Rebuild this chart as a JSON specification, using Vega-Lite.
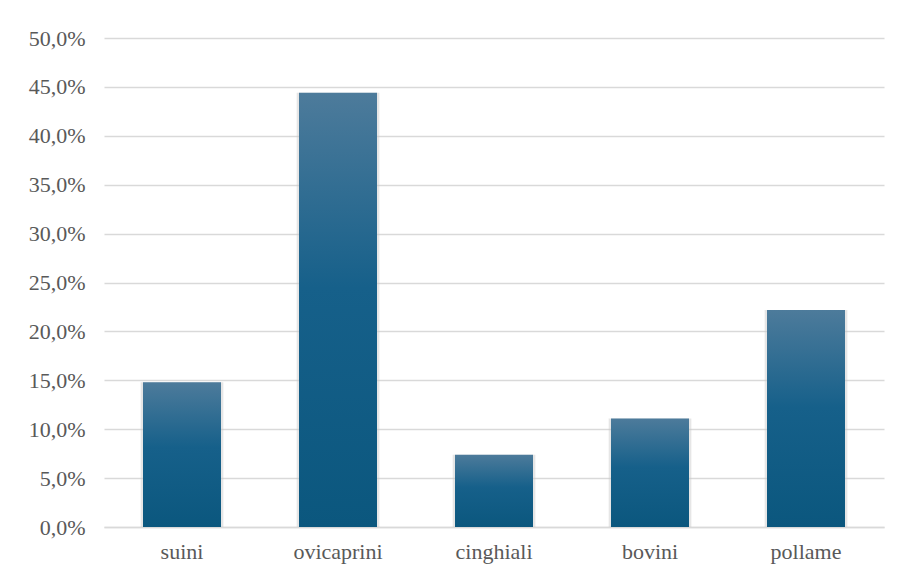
{
  "$schema": "https://vega.github.io/schema/vega-lite/v6.json",
  "width": 780,
  "height": 489,
  "autosize": {"type": "none"},
  "padding": {"left": 104, "top": 38, "right": 19, "bottom": 48},
  "background": "white",
  "config": {
    "view": {"stroke": null},
    "font": "Liberation Serif"
  },
  "data": {
    "values": [
      {"categoria": "suini", "valore": 0.148},
      {"categoria": "ovicaprini", "valore": 0.444},
      {"categoria": "cinghiali", "valore": 0.074},
      {"categoria": "bovini", "valore": 0.111},
      {"categoria": "pollame", "valore": 0.222}
    ]
  },
  "encoding": {
    "x": {
      "field": "categoria",
      "type": "nominal",
      "sort": null,
      "scale": {"paddingInner": 0.5, "paddingOuter": 0.25},
      "axis": {
        "title": null,
        "labelAngle": 0,
        "labelFont": "Liberation Serif",
        "labelFontSize": 22,
        "labelColor": "#595959",
        "labelPadding": 14,
        "ticks": false,
        "domainColor": "#d9d9d9",
        "domainWidth": 1.5
      }
    },
    "y": {
      "field": "valore",
      "type": "quantitative",
      "scale": {"domain": [0, 0.5], "nice": false},
      "axis": {
        "title": null,
        "values": [0, 0.05, 0.1, 0.15, 0.2, 0.25, 0.3, 0.35, 0.4, 0.45, 0.5],
        "labelExpr": "replace(format(datum.value, '.1%'), '.', ',')",
        "labelFont": "Liberation Serif",
        "labelFontSize": 22,
        "labelColor": "#595959",
        "labelPadding": 19,
        "ticks": false,
        "domain": false,
        "gridColor": "#d9d9d9",
        "gridWidth": 1.5
      }
    }
  },
  "layer": [
    {
      "mark": {"type": "bar", "width": {"band": 1.06}, "color": "#c8c8c8", "opacity": 0.45}
    },
    {
      "mark": {
        "type": "bar",
        "width": {"band": 1},
        "color": {
          "gradient": "linear",
          "x1": 0, "y1": 0, "x2": 0, "y2": 1,
          "stops": [
            {"offset": 0, "color": "#4d7b9b"},
            {"offset": 0.45, "color": "#16608a"},
            {"offset": 1, "color": "#0b577e"}
          ]
        }
      }
    }
  ]
}
